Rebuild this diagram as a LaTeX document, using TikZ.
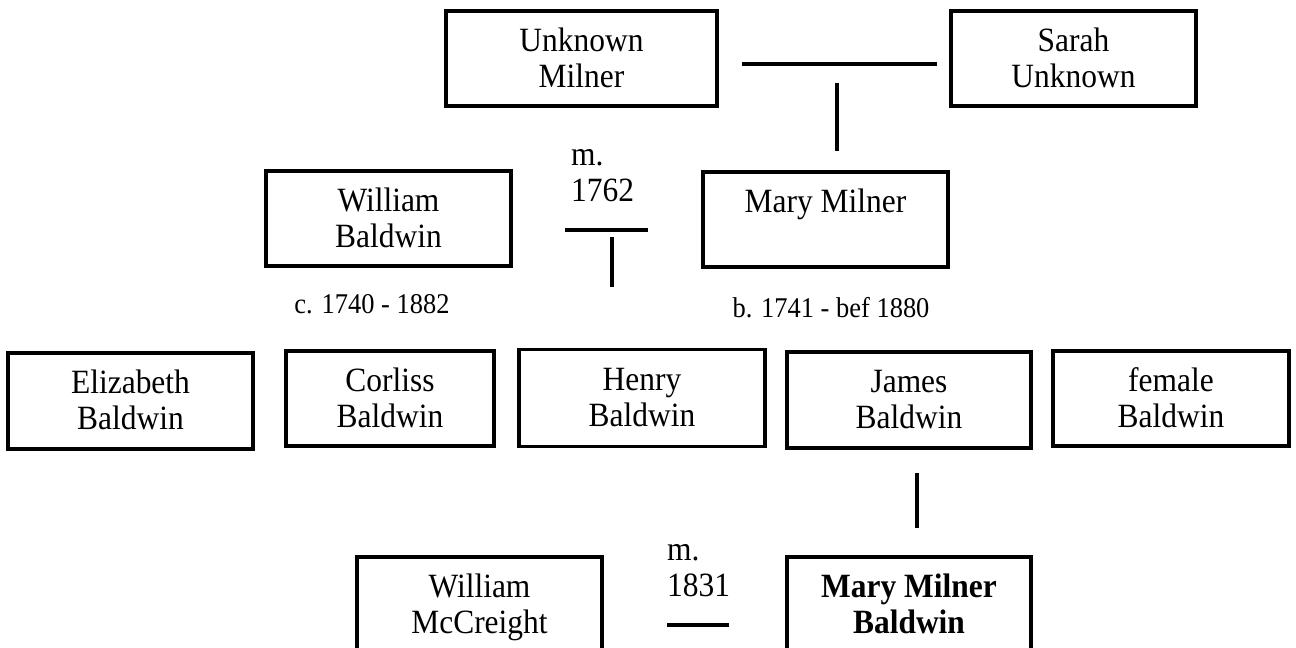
\documentclass[tikz,border=0pt]{standalone}
\usepackage{fontspec}
\setmainfont{Liberation Serif}[FakeStretch=0.925]
\newcommand\twoline[2]{\rule{0pt}{29pt}#1\\#2\rule[-8pt]{0pt}{8pt}}
\begin{document}
\begin{tikzpicture}[x=1pt,y=-1pt,
  person/.style={draw, line width=3.4pt, inner sep=0pt, align=center,
    font=\fontsize{34}{36}\selectfont, minimum height=95pt},
  link/.style={line width=3.4pt},
  note/.style={inner sep=0pt, align=left, anchor=north west,
    font=\fontsize{34}{36}\selectfont},
  dates/.style={inner sep=0pt, anchor=base, font=\fontsize{28.6}{30}\selectfont}]
\clip (0,0) rectangle (1296,648);
\fill[white] (0,0) rectangle (1296,648);
% generation 1
\node[person, minimum width=271pt] (um) at (581.5,58.5) {\twoline{Unknown}{Milner}};
\node[person, minimum width=245pt] (su) at (1073.5,58.5) {\twoline{Sarah}{Unknown}};
% generation 2
\node[person, minimum width=245pt] (wb) at (388.5,218.5) {\twoline{William}{Baldwin}};
\node[person, minimum width=245pt] (mm) at (825.5,219.5) {\twoline{Mary Milner}{}};
\node[note] (m1) at (571,136) {\rule{0pt}{29pt}m.\\1762};
\node[dates] (d1) at (372,313) {c. 1740 - 1882};
\node[dates] (d2) at (831,317) {b. 1741 - bef 1880};
% generation 3
\node[person, minimum width=245pt, minimum height=96pt] (eb) at (130.5,401) {\twoline{Elizabeth}{Baldwin}};
\node[person, minimum width=208pt] (cb) at (390,398.5) {\twoline{Corliss}{Baldwin}};
\node[person, minimum width=246pt, minimum height=97pt] (hb) at (642,398) {\twoline{Henry}{Baldwin}};
\node[person, minimum width=244pt, minimum height=96pt] (jb) at (909,400) {\twoline{James}{Baldwin}};
\node[person, minimum width=236pt] (fb) at (1171,398.5) {\twoline{female}{Baldwin}};
% generation 4
\node[person, minimum width=245pt] (wm) at (479.5,604.5) {\twoline{William}{McCreight}};
\node[person, minimum width=244pt, font=\fontsize{34}{36}\selectfont\bfseries] (mb) at (909,604.5) {\twoline{Mary Milner}{Baldwin}};
\node[note] (m2) at (667,531) {\rule{0pt}{29pt}m.\\1831};
% connectors
\coordinate (a1) at (742,64);  \coordinate (a2) at (937,64);
\coordinate (a3) at (837,83);  \coordinate (a4) at (837,151);
\coordinate (b1) at (565,230); \coordinate (b2) at (648,230);
\coordinate (b3) at (612,237); \coordinate (b4) at (612,287);
\coordinate (c1) at (917,473); \coordinate (c2) at (917,528);
\coordinate (e1) at (667,625); \coordinate (e2) at (729,625);
\draw[link] (a1) -- (a2);
\draw[link] (a3) -- (a4);
\draw[link] (b1) -- (b2);
\draw[link] (b3) -- (b4);
\draw[link] (c1) -- (c2);
\draw[link] (e1) -- (e2);
\end{tikzpicture}
\end{document}
